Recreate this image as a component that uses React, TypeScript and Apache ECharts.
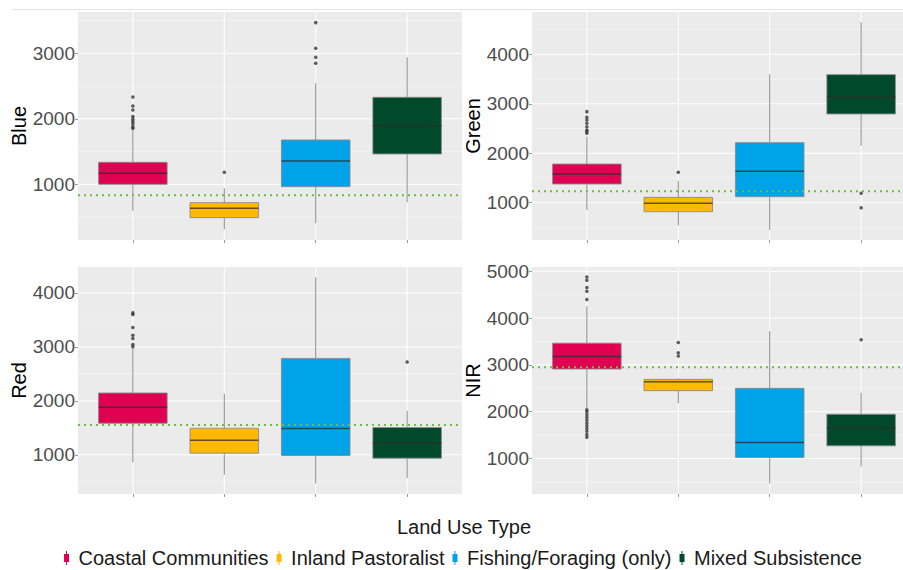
import React, { useEffect, useRef } from 'react';
import * as echarts from 'echarts';

const categories = ['Coastal Communities', 'Inland Pastoralist', 'Fishing/Foraging (only)', 'Mixed Subsistence'];
const colors = ['#E00052', '#FFB900', '#00A3E8', '#004A2B'];
const bands = ['Blue', 'Green', 'Red', 'NIR'];

// [lower whisker, Q1, median, Q3, upper whisker] per land use type
const blueStats = [
  [593, 1000, 1168, 1336, 1840],
  [313, 491, 634, 720, 939],
  [405, 964, 1356, 1677, 2542],
  [725, 1463, 1891, 2328, 2939],
];
const greenStats = [
  [852, 1378, 1580, 1782, 2335],
  [541, 818, 987, 1108, 1438],
  [447, 1121, 1634, 2214, 3596],
  [2153, 2794, 3138, 3589, 4648],
];
const redStats = [
  [858, 1585, 1881, 2146, 2972],
  [630, 1031, 1271, 1493, 2134],
  [470, 988, 1487, 2787, 4290],
  [569, 938, 1222, 1505, 1813],
];
const nirStats = [
  [2073, 2911, 3181, 3465, 4254],
  [2179, 2449, 2641, 2691, 2712],
  [467, 1021, 1341, 2499, 3721],
  [829, 1270, 1647, 1945, 2407],
];

// [category (1-4), value]
const blueOutliers = [
  [1, 1855], [1, 1880], [1, 1921], [1, 1957], [1, 1992], [1, 2033], [1, 2135], [1, 2196], [1, 2333],
  [2, 1183],
  [3, 2847], [3, 2939], [3, 3076], [3, 3468],
];
const greenOutliers = [
  [1, 2403], [1, 2440], [1, 2470], [1, 2537], [1, 2605], [1, 2672], [1, 2726], [1, 2841],
  [2, 1614],
  [4, 1189], [4, 899],
];
const redOutliers = [
  [1, 3002], [1, 3046], [1, 3157], [1, 3218], [1, 3360], [1, 3600], [1, 3631],
  [4, 2719],
];
const nirOutliers = [
  [1, 1455], [1, 1510], [1, 1580], [1, 1640], [1, 1700], [1, 1760], [1, 1820], [1, 1880], [1, 1940], [1, 2000], [1, 2040],
  [1, 4396], [1, 4574], [1, 4652], [1, 4808], [1, 4879],
  [2, 3188], [2, 3259], [2, 3480],
  [4, 3536],
];

// reference (dotted green) line per band
const refLines = [832, 1229, 1555, 2947];

const yMins = [150, 246, 274, 241];
const yMaxs = [3630, 4855, 4481, 5092];
const blueTicks = [1000, 2000, 3000];
const greenTicks = [1000, 2000, 3000, 4000];
const redTicks = [1000, 2000, 3000, 4000];
const nirTicks = [1000, 2000, 3000, 4000, 5000];

const allStats = [blueStats, greenStats, redStats, nirStats];
const allOutliers = [blueOutliers, greenOutliers, redOutliers, nirOutliers];
const allTicks = [blueTicks, greenTicks, redTicks, nirTicks];

const FONT = '"Liberation Sans", Arial, Helvetica, sans-serif';
const grids = [
  { left: 78, top: 12, width: 384, height: 228 },
  { left: 532, top: 12, width: 384, height: 228 },
  { left: 78, top: 267, width: 384, height: 227 },
  { left: 532, top: 267, width: 384, height: 227 },
];

const keyIcon = 'path://M2,0h1v3h-1z M0,3h5v8h-5z M2,11h1v3h-1z';

function renderBox(params: any, api: any) {
  const x = api.value(0);
  const lo = api.coord([x, api.value(1)]);
  const q1 = api.coord([x, api.value(2)]);
  const med = api.coord([x, api.value(3)]);
  const q3 = api.coord([x, api.value(4)]);
  const hi = api.coord([x, api.value(5)]);
  const w = api.size([0.75, 0])[0];
  const cx = lo[0];
  const color = api.visual('color');
  const whisker = { stroke: '#8C8C8C', lineWidth: 1 };
  return {
    type: 'group',
    children: [
      { type: 'line', shape: { x1: cx, y1: q3[1], x2: cx, y2: hi[1] }, style: whisker },
      { type: 'line', shape: { x1: cx, y1: lo[1], x2: cx, y2: q1[1] }, style: whisker },
      {
        type: 'rect',
        shape: { x: cx - w / 2, y: q3[1], width: w, height: q1[1] - q3[1] },
        style: { fill: color, stroke: 'rgba(140,140,140,0.9)', lineWidth: 1 },
      },
      {
        type: 'line',
        shape: { x1: cx - w / 2, y1: med[1], x2: cx + w / 2, y2: med[1] },
        style: { stroke: 'rgba(45,45,45,0.75)', lineWidth: 1.5 },
      },
    ],
  };
}

function hLine(width: number, stroke: string, dash?: number[]) {
  return (params: any, api: any) => {
    const cs = params.coordSys;
    const y = api.coord([api.value(0), api.value(1)])[1];
    return {
      type: 'line',
      shape: { x1: cs.x, y1: y, x2: cs.x + cs.width, y2: y },
      style: { stroke, lineWidth: width, lineDash: dash },
    };
  };
}

function vLine(params: any, api: any) {
  const cs = params.coordSys;
  const x = api.coord([api.value(0), api.value(1)])[0];
  return {
    type: 'line',
    shape: { x1: x, y1: cs.y, x2: x, y2: cs.y + cs.height },
    style: { stroke: '#FFFFFF', lineWidth: 1 },
  };
}

export default function App() {
  const ref = useRef<HTMLDivElement>(null);
  useEffect(() => {
    if (!ref.current) return;
    const chart = echarts.init(ref.current, null, { renderer: 'svg' });
    const series: any[] = [];
    allStats.forEach((stats, p) => {
      const ticks = allTicks[p];
      const step = ticks[1] - ticks[0];
      const minor: number[] = [];
      [ticks[0] - step, ...ticks].forEach((t) => {
        const m = t + step / 2;
        if (m > yMins[p] && m < yMaxs[p]) minor.push(m);
      });
      series.push({
        type: 'custom', name: '_minor' + p, xAxisIndex: p, yAxisIndex: p, z: 1, silent: true,
        renderItem: hLine(0.5, 'rgba(255,255,255,0.8)'),
        data: minor.map((v) => [1, v]),
      });
      series.push({
        type: 'custom', name: '_major' + p, xAxisIndex: p, yAxisIndex: p, z: 1, silent: true,
        renderItem: hLine(1, '#FFFFFF'),
        data: ticks.map((v) => [1, v]),
      });
      series.push({
        type: 'custom', name: '_vert' + p, xAxisIndex: p, yAxisIndex: p, z: 1, silent: true,
        renderItem: vLine,
        data: categories.map((_, i) => [i + 1, yMins[p]]),
      });
      stats.forEach((s, i) => {
        series.push({
          type: 'custom',
          name: categories[i],
          xAxisIndex: p,
          yAxisIndex: p,
          z: 2,
          itemStyle: { color: colors[i] },
          renderItem: renderBox,
          encode: { x: 0, y: [1, 2, 3, 4, 5] },
          data: [[i + 1, ...s]],
        });
      });
      series.push({
        type: 'scatter', name: '_out' + p, xAxisIndex: p, yAxisIndex: p, z: 3, silent: true,
        symbolSize: 3.5, itemStyle: { color: '#333333' },
        data: allOutliers[p],
      });
      series.push({
        type: 'custom', name: '_ref' + p, xAxisIndex: p, yAxisIndex: p, z: 4, silent: true,
        renderItem: hLine(2, '#6CBF3A', [2, 4]),
        data: [[1, refLines[p]]],
      });
    });

    const option: any = {
      animation: false,
      backgroundColor: '#FFFFFF',
      textStyle: { fontFamily: FONT },
      grid: grids.map((g) => ({
        ...g,
        show: true,
        backgroundColor: '#EBEBEB',
        borderWidth: 0,
        containLabel: false,
        outerBoundsMode: 'none',
      })),
      xAxis: grids.map((_, p) => ({
        type: 'value',
        gridIndex: p,
        min: 0.4,
        max: 4.6,
        axisLine: { show: false },
        axisLabel: { show: false, customValues: [1, 2, 3, 4] },
        axisTick: { show: true, customValues: [1, 2, 3, 4], length: 3, lineStyle: { color: '#9A9A9A' } },
        splitLine: { show: false },
        minorSplitLine: { show: false },
      })),
      yAxis: grids.map((_, p) => ({
        type: 'value',
        gridIndex: p,
        min: yMins[p],
        max: yMaxs[p],
        name: bands[p],
        nameLocation: 'middle',
        nameGap: p % 2 === 0 ? 48 : 46,
        nameTextStyle: { fontSize: 20, color: '#000000', fontFamily: FONT },
        axisLine: { show: false },
        axisTick: { show: true, customValues: allTicks[p], length: 3, lineStyle: { color: '#9A9A9A' } },
        axisLabel: {
          customValues: allTicks[p],
          formatter: (v: number) => String(v),
          fontSize: 19,
          color: '#4D4D4D',
          margin: 3,
          fontFamily: FONT,
        },
        splitLine: { show: false },
        minorSplitLine: { show: false },
      })),
      legend: {
        data: categories.map((n) => ({ name: n, icon: keyIcon })),
        left: 59,
        top: 543,
        orient: 'horizontal',
        itemWidth: 14,
        itemHeight: 14,
        itemGap: 8,
        selectedMode: false,
        textStyle: { fontSize: 20, color: '#1A1A1A', fontFamily: FONT },
      },
      tooltip: { show: false },
      graphic: [
        {
          type: 'line',
          shape: { x1: 11, y1: 9.5, x2: 903, y2: 9.5 },
          style: { stroke: '#E4E4EE', lineWidth: 1 },
          silent: true,
        },
        {
          type: 'text',
          x: 464,
          y: 527,
          style: {
            text: 'Land Use Type',
            fontSize: 20,
            fill: '#1A1A1A',
            fontFamily: FONT,
            textAlign: 'center',
            textVerticalAlign: 'middle',
          },
          silent: true,
        },
      ],
      series,
    };
    chart.setOption(option);
    return () => chart.dispose();
  }, []);
  return (
    <div
      ref={ref}
      style={{ position: 'absolute', left: 0, top: 0, width: 903, height: 570, overflow: 'hidden' }}
    />
  );
}
